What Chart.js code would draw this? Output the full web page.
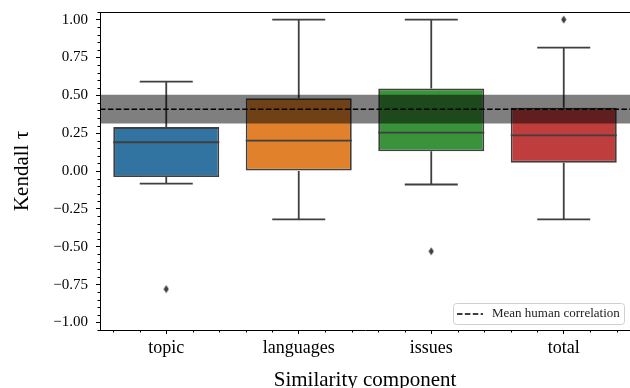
<!DOCTYPE html>
<html>
<head>
<meta charset="utf-8">
<script src="https://cdn.jsdelivr.net/npm/chart.js@4.4.1/dist/chart.umd.min.js"></script>
<style>
html,body{margin:0;padding:0;background:#fff;overflow:hidden;}
#wrap{width:630px;height:388px;position:relative;}
</style>
</head>
<body>
<div id="wrap"><canvas id="c" width="630" height="388"></canvas></div>
<script>
// ---- data ----
const categories = ['topic', 'languages', 'issues', 'total'];
const q1 = [-0.04, 0.00, 0.13, 0.055];
const medians = [0.19, 0.20, 0.253, 0.235];
const q3 = [0.29, 0.48, 0.545, 0.418];
const whiskerLow = [-0.084, -0.32, -0.089, -0.32];
const whiskerHigh = [0.59, 1.00, 1.00, 0.815];
const outlierCat = [0, 2, 3];
const outlierVal = [-0.78, -0.53, 1.00];
const humanMean = 0.408;
const humanLow = 0.313;
const humanHigh = 0.504;
const yTickValues = [-1.00, -0.75, -0.50, -0.25, 0.00, 0.25, 0.50, 0.75, 1.00];
const legendLabel = 'Mean human correlation';

// ---- styles ----
const boxColors = ['#3274a1', '#e1812c', '#3a923a', '#c03d3e'];
const edgeColor = '#3f3f3f';
const FONT = "'Liberation Serif', 'DejaVu Serif', serif";

// thin diamond marker
const diamond = document.createElement('canvas');
diamond.width = 6; diamond.height = 9;
(function(){
  const g = diamond.getContext('2d');
  g.fillStyle = edgeColor;
  g.beginPath();
  g.moveTo(3, 0.5); g.lineTo(5.6, 4.5); g.lineTo(3, 8.5); g.lineTo(0.4, 4.5); g.closePath();
  g.fill();
})();

const boxData = categories.map((c, i) => ({x: i, y: [q1[i], q3[i]]}));
const outlierData = outlierCat.map((c, i) => ({x: c, y: outlierVal[i]}));

const boxPlugin = {
  id: 'boxParts',
  afterDatasetDraw(chart, args) {
    if (args.index !== 0) return;
    const ctx = chart.ctx;
    const ys = chart.scales.y;
    const meta = chart.getDatasetMeta(0);
    ctx.save();
    ctx.strokeStyle = edgeColor;
    ctx.lineWidth = 1.8;
    meta.data.forEach((bar, i) => {
      const x = bar.x;
      const w = bar.width;
      const capW = w / 2;
      const yMed = ys.getPixelForValue(medians[i]);
      const yQ1 = ys.getPixelForValue(q1[i]);
      const yQ3 = ys.getPixelForValue(q3[i]);
      const yLo = ys.getPixelForValue(whiskerLow[i]);
      const yHi = ys.getPixelForValue(whiskerHigh[i]);
      ctx.beginPath();
      ctx.moveTo(x - w / 2, yMed); ctx.lineTo(x + w / 2, yMed);
      ctx.moveTo(x, yQ1); ctx.lineTo(x, yLo);
      ctx.moveTo(x, yQ3); ctx.lineTo(x, yHi);
      ctx.moveTo(x - capW / 2, yLo); ctx.lineTo(x + capW / 2, yLo);
      ctx.moveTo(x - capW / 2, yHi); ctx.lineTo(x + capW / 2, yHi);
      ctx.stroke();
    });
    ctx.restore();
  }
};

const framePlugin = {
  id: 'frame',
  afterDraw(chart) {
    const ctx = chart.ctx;
    const a = chart.chartArea;
    const xs = chart.scales.x, ys = chart.scales.y;
    ctx.save();
    // top spine
    ctx.strokeStyle = '#000';
    ctx.lineWidth = 1;
    ctx.beginPath();
    ctx.moveTo(a.left, a.top + 0.5); ctx.lineTo(a.right, a.top + 0.5);
    ctx.stroke();
    // minor ticks
    ctx.beginPath();
    for (let k = -21; k <= 21; k++) {
      if (k % 5 === 0) continue;
      const v = k * 0.05;
      const py = Math.round(ys.getPixelForValue(v)) + 0.5;
      ctx.moveTo(a.left - 2.5, py); ctx.lineTo(a.left, py);
    }
    for (let k = -2; k <= 17; k++) {
      if (k % 5 === 0) continue;
      const v = k * 0.2;
      const px = Math.round(xs.getPixelForValue(v)) + 0.5;
      ctx.moveTo(px, a.bottom); ctx.lineTo(px, a.bottom + 2.5);
    }
    ctx.stroke();
    // legend (lower right)
    const lw = 171, lh = 21;
    const lx = a.right - 6 - lw, ly = a.bottom - 6 - lh;
    ctx.beginPath();
    if (ctx.roundRect) ctx.roundRect(lx + 0.5, ly + 0.5, lw, lh, 3); else ctx.rect(lx + 0.5, ly + 0.5, lw, lh);
    ctx.fillStyle = 'rgba(255,255,255,0.8)';
    ctx.fill();
    ctx.strokeStyle = '#d0d0d0';
    ctx.lineWidth = 1;
    ctx.stroke();
    const cy = ly + lh / 2 + 0.5;
    ctx.strokeStyle = '#000';
    ctx.lineWidth = 1.5;
    ctx.setLineDash([5.5, 2.4]);
    ctx.beginPath();
    ctx.moveTo(lx + 4, cy); ctx.lineTo(lx + 30, cy);
    ctx.stroke();
    ctx.setLineDash([]);
    ctx.fillStyle = '#222';
    ctx.font = '13px ' + FONT;
    ctx.textBaseline = 'middle';
    ctx.textAlign = 'left';
    ctx.fillText(legendLabel, lx + 39, cy);
    ctx.restore();
  }
};

new Chart(document.getElementById('c'), {
  type: 'bar',
  data: {
    datasets: [
      {
        type: 'bar',
        data: boxData,
        backgroundColor: boxColors,
        borderColor: edgeColor,
        borderWidth: 1.8,
        borderSkipped: false,
        barPercentage: 0.8,
        categoryPercentage: 1.0,
        order: 5
      },
      {
        type: 'line',
        data: [{x: -0.5, y: humanHigh}, {x: 3.5, y: humanHigh}],
        borderWidth: 0,
        pointRadius: 0,
        fill: false,
        order: 3
      },
      {
        type: 'line',
        data: [{x: -0.5, y: humanLow}, {x: 3.5, y: humanLow}],
        borderWidth: 0,
        pointRadius: 0,
        fill: '-1',
        backgroundColor: 'rgba(0,0,0,0.5)',
        order: 3
      },
      {
        type: 'line',
        label: legendLabel,
        data: [{x: -0.5, y: humanMean}, {x: 3.5, y: humanMean}],
        borderColor: '#000',
        borderWidth: 1.5,
        borderDash: [5.5, 2.4],
        pointRadius: 0,
        fill: false,
        order: 2
      },
      {
        type: 'scatter',
        data: outlierData,
        pointStyle: diamond,
        pointRadius: 4,
        order: 1
      }
    ]
  },
  options: {
    responsive: false,
    animation: false,
    events: [],
    layout: {autoPadding: false, padding: {top: 12, right: 0, left: 0, bottom: 0}},
    plugins: {legend: {display: false}, tooltip: {enabled: false}},
    scales: {
      x: {
        type: 'linear',
        min: -0.5,
        max: 3.5,
        offset: false,
        afterBuildTicks(s) { s.ticks = categories.map((c, i) => ({value: i})); },
        afterFit(s) { s.height = 58; s.paddingLeft = 0; s.paddingRight = 0; },
        ticks: {
          callback: (v) => categories[v] !== undefined ? categories[v] : '',
          color: '#000',
          font: {family: FONT, size: 18},
          padding: 3,
          maxRotation: 0,
          autoSkip: false
        },
        grid: {display: true, offset: false, drawOnChartArea: false, drawTicks: true, tickLength: 4, color: '#000'},
        border: {display: true, color: '#000', width: 1},
        title: {display: true, text: 'Similarity component', color: '#000', font: {family: FONT, size: 21}, padding: {top: 0, bottom: -5}}
      },
      y: {
        type: 'linear',
        min: -1.05,
        max: 1.05,
        afterBuildTicks(s) { s.ticks = yTickValues.map(v => ({value: v})); },
        afterFit(s) { s.width = 100; s.paddingTop = 0; s.paddingBottom = 0; },
        ticks: {
          callback: (v) => (v < -1e-9 ? '\u2212' : '') + Math.abs(v).toFixed(2),
          color: '#000',
          font: {family: FONT, size: 15},
          padding: 8
        },
        grid: {display: true, drawOnChartArea: false, drawTicks: true, tickLength: 4, color: '#000'},
        border: {display: true, color: '#000', width: 1},
        title: {display: true, text: 'Kendall \u03c4', color: '#000', font: {family: FONT, size: 21}, padding: {top: 10, bottom: 0}}
      }
    }
  },
  plugins: [boxPlugin, framePlugin]
});
</script>
</body>
</html>
